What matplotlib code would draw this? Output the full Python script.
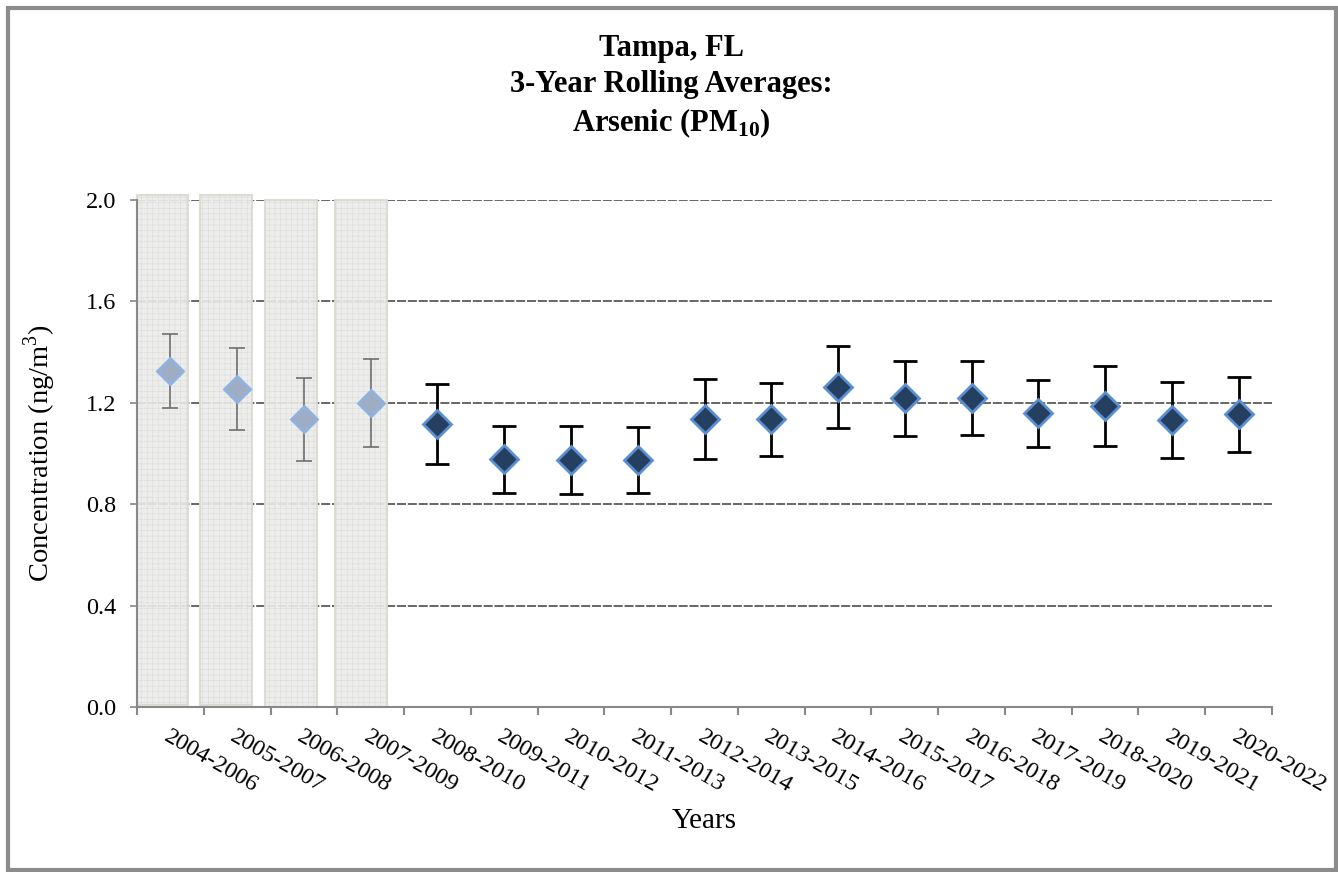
import matplotlib
matplotlib.use("Agg")
import matplotlib.pyplot as plt
from matplotlib.patches import Rectangle
import numpy as np

# ---- data
periods = ['2004-2006', '2005-2007', '2006-2008', '2007-2009', '2008-2010',
           '2009-2011', '2010-2012', '2011-2013', '2012-2014', '2013-2015',
           '2014-2016', '2015-2017', '2016-2018', '2017-2019', '2018-2020',
           '2019-2021', '2020-2022']
avg = [1.327, 1.256, 1.138, 1.201, 1.118, 0.980, 0.976, 0.976, 1.137,
       1.137, 1.264, 1.220, 1.220, 1.159, 1.188, 1.133, 1.154]
err_hi = [1.472, 1.417, 1.299, 1.374, 1.276, 1.110, 1.110, 1.106, 1.294,
          1.278, 1.425, 1.366, 1.366, 1.291, 1.344, 1.281, 1.302]
err_lo = [1.181, 1.091, 0.972, 1.024, 0.957, 0.846, 0.839, 0.843, 0.979,
          0.992, 1.100, 1.071, 1.074, 1.025, 1.028, 0.983, 1.005]
n_shaded = 4  # first periods greyed out

plt.rcParams['font.family'] = ['Liberation Serif', 'DejaVu Serif']
plt.rcParams['mathtext.fontset'] = 'custom'
plt.rcParams['mathtext.rm'] = 'Liberation Serif'
plt.rcParams['mathtext.bf'] = 'Liberation Serif:bold'
plt.rcParams['hatch.linewidth'] = 0.4

fig = plt.figure(figsize=(13.38, 8.72), dpi=100)
ax = fig.add_axes([137/1338, 1 - 707/872, (1272 - 137)/1338, 507/872])

x = np.arange(len(periods))
avg = np.array(avg)
lo = avg - np.array(err_lo)
hi = np.array(err_hi) - avg

# Grey boxes behind the early periods.
box_left = [-0.5, -0.555, -0.58, -0.53]
box_top = [2.02, 2.02, 2.0, 2.0]
box_bot = [0.008, 0.008, 0.0, 0.0]
for i in range(n_shaded):
    r = Rectangle((i + box_left[i], box_bot[i]), 0.77, box_top[i] - box_bot[i],
                  fc='#ececec', ec='#dadad2', lw=1.5, hatch='+++',
                  alpha=0.9, zorder=2, clip_on=False)
    ax.add_patch(r)

# Faded points.
s = slice(0, n_shaded)
ax.errorbar(x[s], avg[s], yerr=[lo[s], hi[s]], fmt='none', ecolor='#6f6f6f',
            elinewidth=1.2, capsize=6, capthick=1.2, ls=':', zorder=3)
ax.plot(x[s], avg[s], 'D', ms=13, mfc='#9fadc4', mec='#8fb2e0', mew=2,
        zorder=4)

# Regular points.
s = slice(n_shaded, None)
ax.errorbar(x[s], avg[s], yerr=[lo[s], hi[s]], fmt='none', ecolor='black',
            elinewidth=2, capsize=8.5, capthick=2, zorder=3)
ax.plot(x[s], avg[s], 'D', ms=14, mfc='#243f60', mec='#5b8fcf', mew=2,
        zorder=4)

ax.set_xlim(-0.5, len(periods) - 0.5)
ax.set_ylim(0, 2.0)
ax.set_yticks(np.arange(0, 2.01, 0.4))
ax.set_yticklabels(['{:.1f}'.format(v) for v in np.arange(0, 2.01, 0.4)])
for v in np.arange(0.4, 2.01, 0.4):
    ax.axhline(v, color='#5a5a5a', lw=1.3, ls=(0, (5, 1)), zorder=1)

ax.set_xticks(x)
ax.set_xticklabels(periods, rotation=-30, ha='left', va='top',
                   rotation_mode='anchor', fontsize=17.5)
ax.set_xticks(np.arange(-0.5, len(periods)), minor=True)
ax.tick_params(axis='x', which='major', length=0, pad=14)
ax.tick_params(axis='x', which='minor', length=6, color='#888888', width=1.5)
ax.tick_params(axis='y', length=5, color='#888888', width=1.2, labelsize=17.5,
               pad=10)

for side in ['top', 'right']:
    ax.spines[side].set_visible(False)
for side in ['left', 'bottom']:
    ax.spines[side].set_color('#888888')
    ax.spines[side].set_linewidth(1.5)

ax.set_ylabel('Concentration (ng/m$^3$)', fontsize=20.5, labelpad=20)
ax.set_xlabel('Years', fontsize=21)
ax.xaxis.set_label_coords(0.5, -0.2)

fig.text(0.502, 0.961,
         'Tampa, FL\n3-Year Rolling Averages:\nArsenic (PM$_{\\mathbf{10}}$)',
         ha='center', va='top', fontsize=22, fontweight='bold',
         linespacing=1.3)

# Outer frame.
fig.add_artist(Rectangle((8/1338, 2/872), 1328/1338, 862/872,
                         transform=fig.transFigure, fill=False,
                         ec='#8c8c8c', lw=3))

fig.savefig('out.png', dpi=100)
